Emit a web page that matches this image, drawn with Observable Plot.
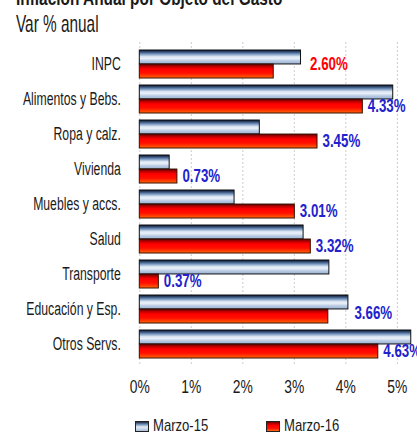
<!DOCTYPE html>
<html><head><meta charset="utf-8">
<script src="https://cdn.jsdelivr.net/npm/d3@7"></script>
<script src="https://cdn.jsdelivr.net/npm/@observablehq/plot@0.6"></script>
<style>
body{margin:0;background:#fff;overflow:hidden;}
#wrap{position:relative;width:417px;height:435px;overflow:hidden;font-family:"Liberation Sans",Arial,sans-serif;color:#1a1a1a;}
#title{position:absolute;left:16px;top:-12px;font-weight:bold;font-size:20px;line-height:20px;white-space:nowrap;transform:scaleX(0.77);transform-origin:left center;}
#subtitle{position:absolute;left:16px;top:12px;font-size:24px;line-height:23px;white-space:nowrap;transform:scaleX(0.64);transform-origin:left center;}
#chart{position:absolute;left:0;top:40px;}
.lg{position:absolute;top:416px;height:20px;display:flex;align-items:center;font-size:17px;white-space:nowrap;}
.lg span{display:inline-block;transform:scaleX(0.77);transform-origin:left center;}
.sw{width:12px;height:9px;border:1px solid #222;margin-right:4px;}
</style></head>
<body><div id="wrap">
<div id="title">Inflación Anual por Objeto del Gasto</div>
<div id="subtitle">Var % anual</div>
<div id="chart"></div>
<div class="lg" style="left:135px"><div class="sw" style="background:linear-gradient(#1b2a44,#7d9cc4 30%,#e4edf7 55%,#a8bedc)"></div><span>Marzo-15</span></div>
<div class="lg" style="left:266px"><div class="sw" style="background:linear-gradient(#7a0000,#ff0000 40%,#ff1000 70%,#ff6a10)"></div><span>Marzo-16</span></div>
</div>
<script>
const categories = ["INPC","Alimentos y Bebs.","Ropa y calz.","Vivienda","Muebles y accs.","Salud","Transporte","Educación y Esp.","Otros Servs."];
const marzo15 = [3.13, 4.92, 2.33, 0.58, 1.84, 3.18, 3.68, 4.05, 5.27];
const marzo16 = [2.60, 4.33, 3.45, 0.73, 3.01, 3.32, 0.37, 3.66, 4.63];
const xTicks = [0, 1, 2, 3, 4, 5];

const rows = categories.map((c, i) => ({cat: c, m15: marzo15[i], m16: marzo16[i]}));
const fmt = v => d3.format(".2f")(v) + "%";
const half = 14.04;
const special = new Set(["INPC", "Educación y Esp."]);

const plot = Plot.plot({
  width: 417, height: 365,
  marginTop: 2.3, marginBottom: 39.8, marginLeft: 139.3, marginRight: 4.7,
  style: {fontFamily: '"Liberation Sans",Arial,sans-serif', fontSize: "18px", color: "#1a1a1a", background: "transparent"},
  x: {domain: [0, 5.3], ticks: xTicks, tickFormat: d => d + "%", tickSize: 0, tickPadding: 15, label: null},
  y: {domain: categories, padding: 0.2, tickSize: 0, tickPadding: 19, label: null},
  marks: [
    Plot.ruleX(xTicks, {stroke: "#bbb", strokeDasharray: "1.5,2.5"}),
    Plot.barX(rows, {x: "m15", y: "cat", insetBottom: half, fill: "url(#gBlue)", stroke: "#111", strokeWidth: 1}),
    Plot.barX(rows, {x: "m16", y: "cat", insetTop: half, fill: "url(#gRed)", stroke: "#3a1000", strokeWidth: 1}),
    Plot.text(rows.filter(d => !special.has(d.cat)), {x: "m16", y: "cat", text: d => fmt(d.m16), dx: 5, dy: 7, textAnchor: "start", fill: "#2222cc", fontWeight: "bold", fontSize: 18}),
    Plot.text(rows.filter(d => d.cat === "INPC"), {x: "m15", y: "cat", text: d => fmt(d.m16), dx: 9, dy: 0, textAnchor: "start", fill: "#ff0000", fontWeight: "bold", fontSize: 18}),
    Plot.text(rows.filter(d => d.cat === "Educación y Esp."), {x: "m15", y: "cat", text: d => fmt(d.m16), dx: 6, dy: 4, textAnchor: "start", fill: "#2222cc", fontWeight: "bold", fontSize: 18})
  ]
});
document.getElementById("chart").appendChild(plot);

const svg = d3.select(plot);
const defs = svg.insert("defs", ":first-child");
const gb = defs.append("linearGradient").attr("id", "gBlue").attr("x1", 0).attr("y1", 0).attr("x2", 0).attr("y2", 1);
[[0, "#0b1730"], [0.12, "#2c466c"], [0.3, "#7d9cc4"], [0.48, "#dfe9f5"], [0.6, "#e8eff8"], [0.8, "#b4c8e2"], [1, "#9ab2d4"]]
  .forEach(([o, c]) => gb.append("stop").attr("offset", o).attr("stop-color", c));
const gr = defs.append("linearGradient").attr("id", "gRed").attr("x1", 0).attr("y1", 0).attr("x2", 0).attr("y2", 1);
[[0, "#5a0000"], [0.15, "#b00000"], [0.35, "#ff0000"], [0.65, "#ff1000"], [0.85, "#ff4000"], [1, "#ff6a10"]]
  .forEach(([o, c]) => gr.append("stop").attr("offset", o).attr("stop-color", c));

// condense texts to mimic the narrow face of the original
function squish(sel, s) {
  svg.selectAll(sel).each(function () {
    const t = this.getAttribute("transform");
    if (t) this.setAttribute("transform", t + ` scale(${s},1)`);
  });
}
squish('g[aria-label="y-axis tick label"] text', 0.68);
squish('g[aria-label="x-axis tick label"] text', 0.77);
squish('g[aria-label="text"] text', 0.74);
</script>
</body></html>
